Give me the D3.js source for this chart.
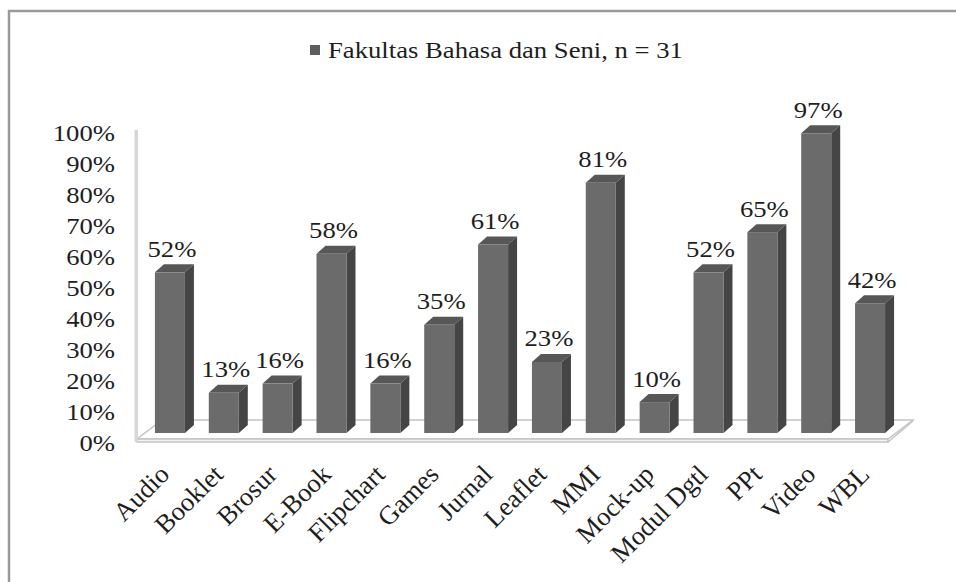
<!DOCTYPE html>
<html>
<head>
<meta charset="utf-8">
<script src="https://cdn.jsdelivr.net/npm/d3@7"></script>
<style>
  body { margin: 0; background: #fff; }
  text { font-family: "Liberation Serif", "Times New Roman", serif; fill: #1e1e1e; }
</style>
</head>
<body>
<div id="chart"></div>
<script>
var categories = ["Audio", "Booklet", "Brosur", "E-Book", "Flipchart", "Games", "Jurnal",
                  "Leaflet", "MMI", "Mock-up", "Modul Dgtl", "PPt", "Video", "WBL"];
var values = [52, 13, 16, 58, 16, 35, 61, 23, 81, 10, 52, 65, 97, 42];
var yTicks = [0, 10, 20, 30, 40, 50, 60, 70, 80, 90, 100];
var seriesName = "Fakultas Bahasa dan Seni, n = 31";

function init(){
    var w = 956, h = 582;
    var stretch = 1.16;   // the picture is a bit wider than tall
    var fs = 23;
    var depth = {x: 9, y: -8};       // bar depth
    var floorDepth = {x: 25, y: -19};

    var svg = d3.select("#chart")
                .append("svg")
                .attr("width", w)
                .attr("height", h);

    // outer frame
    svg.append("rect")
        .attr("x", 9).attr("y", 11)
        .attr("width", 980).attr("height", 620)
        .attr("fill", "none")
        .attr("stroke", "#9a9a9a")
        .attr("stroke-width", 2.5);

    var xScale = d3.scaleBand()
                .domain(categories)
                .range([143, 897])
                .paddingInner(0.443)
                .paddingOuter(0.2215);

    // bar front faces
    var yScale = d3.scaleLinear()
                .domain([0, 100])
                .range([433, 124]);

    // value axis labels sit on the front of the floor
    var axisScale = d3.scaleLinear()
                .domain([0, 100])
                .range([443, 133]);

    // floor slab
    var fl = 137, fr = 888, ft = 439, fb = 442;
    svg.append("path")
        .attr("d", "M" + fl + "," + ft + "L" + fr + "," + ft +
                   "L" + (fr + floorDepth.x) + "," + (ft + floorDepth.y) +
                   "L" + (fl + floorDepth.x) + "," + (ft + floorDepth.y) + "Z")
        .attr("fill", "#fff")
        .attr("stroke", "#c4c4c4")
        .attr("stroke-width", 1.5);
    svg.append("path")
        .attr("d", "M" + fl + "," + ft + "L" + fr + "," + ft + "L" + fr + "," + fb +
                   "L" + fl + "," + fb + "Z")
        .attr("fill", "#f4f4f4")
        .attr("stroke", "#c4c4c4")
        .attr("stroke-width", 1.5);
    svg.append("line")
        .attr("x1", fr).attr("y1", fb)
        .attr("x2", fr + floorDepth.x).attr("y2", ft + floorDepth.y + 1)
        .attr("stroke", "#c4c4c4").attr("stroke-width", 1.5);

    // side wall edge
    svg.append("rect")
        .attr("x", 134.5).attr("y", 130)
        .attr("width", 3.5).attr("height", fb - 130)
        .attr("fill", "#d6d6d6");

    var bars = svg.selectAll(".bar")
                .data(values)
                .enter()
                .append("g")
                .attr("class", "bar");

    // top
    bars.append("path")
        .attr("d", function(d, i){
            var x0 = xScale(categories[i]), x1 = x0 + xScale.bandwidth(), y = yScale(d);
            return "M" + x0 + "," + y + "L" + (x0 + depth.x) + "," + (y + depth.y) +
                   "L" + (x1 + depth.x) + "," + (y + depth.y) + "L" + x1 + "," + y + "Z";
        })
        .attr("fill", "#575757");

    // side
    bars.append("path")
        .attr("d", function(d, i){
            var x1 = xScale(categories[i]) + xScale.bandwidth(), y = yScale(d), b = yScale(0);
            return "M" + x1 + "," + y + "L" + (x1 + depth.x) + "," + (y + depth.y) +
                   "L" + (x1 + depth.x) + "," + (b + depth.y) + "L" + x1 + "," + b + "Z";
        })
        .attr("fill", "#454545");

    // front
    bars.append("rect")
        .attr("x", function(d, i){ return xScale(categories[i]); })
        .attr("y", function(d){ return yScale(d); })
        .attr("width", xScale.bandwidth())
        .attr("height", function(d){ return yScale(0) - yScale(d); })
        .attr("fill", "#6b6b6b");

    // value labels
    bars.append("text")
        .attr("transform", function(d, i){
            var cx = xScale(categories[i]) + xScale.bandwidth() / 2 + 2;
            return "translate(" + cx + "," + (yScale(d) + depth.y - 7.5) + ") scale(" + stretch + ",1)";
        })
        .attr("text-anchor", "middle")
        .style("font-size", fs + "px")
        .text(function(d){ return d + "%"; });

    // value axis
    var yAxis = d3.axisLeft()
                .scale(axisScale)
                .tickValues(yTicks)
                .tickSize(0)
                .tickFormat(function(d){ return d + "%"; });

    var gy = svg.append("g")
                .attr("transform", "translate(115,0)")
                .call(yAxis);
    gy.select(".domain").remove();
    gy.selectAll(".tick").attr("transform", null);
    gy.selectAll("text")
        .attr("x", null)
        .attr("transform", function(d){
            return "translate(0," + axisScale(d) + ") scale(" + stretch + ",1)";
        })
        .attr("dy", "0.35em")
        .attr("text-anchor", "end")
        .attr("fill", "#1e1e1e")
        .style("font-size", fs + "px");

    // category axis labels
    var xAxis = d3.axisBottom()
                .scale(xScale)
                .tickSize(0);
    var gx = svg.append("g")
                .call(xAxis);
    gx.select(".domain").remove();
    gx.selectAll(".tick").attr("transform", null);
    gx.selectAll("text")
        .attr("y", null).attr("dy", null)
        .attr("text-anchor", "end")
        .attr("transform", function(d){
            var cx = xScale(d) + xScale.bandwidth() / 2 + 1;
            return "translate(" + cx + ",476) rotate(-45)";
        })
        .attr("fill", "#1e1e1e")
        .style("font-size", "26.5px");

    // legend
    svg.append("rect")
        .attr("x", 310).attr("y", 45)
        .attr("width", 10).attr("height", 10)
        .attr("fill", "#5e5e5e");
    svg.append("text")
        .attr("transform", "translate(328,58) scale(" + stretch + ",1)")
        .style("font-size", fs + "px")
        .text(seriesName);
}
window.onload = init;
</script>
</body>
</html>
